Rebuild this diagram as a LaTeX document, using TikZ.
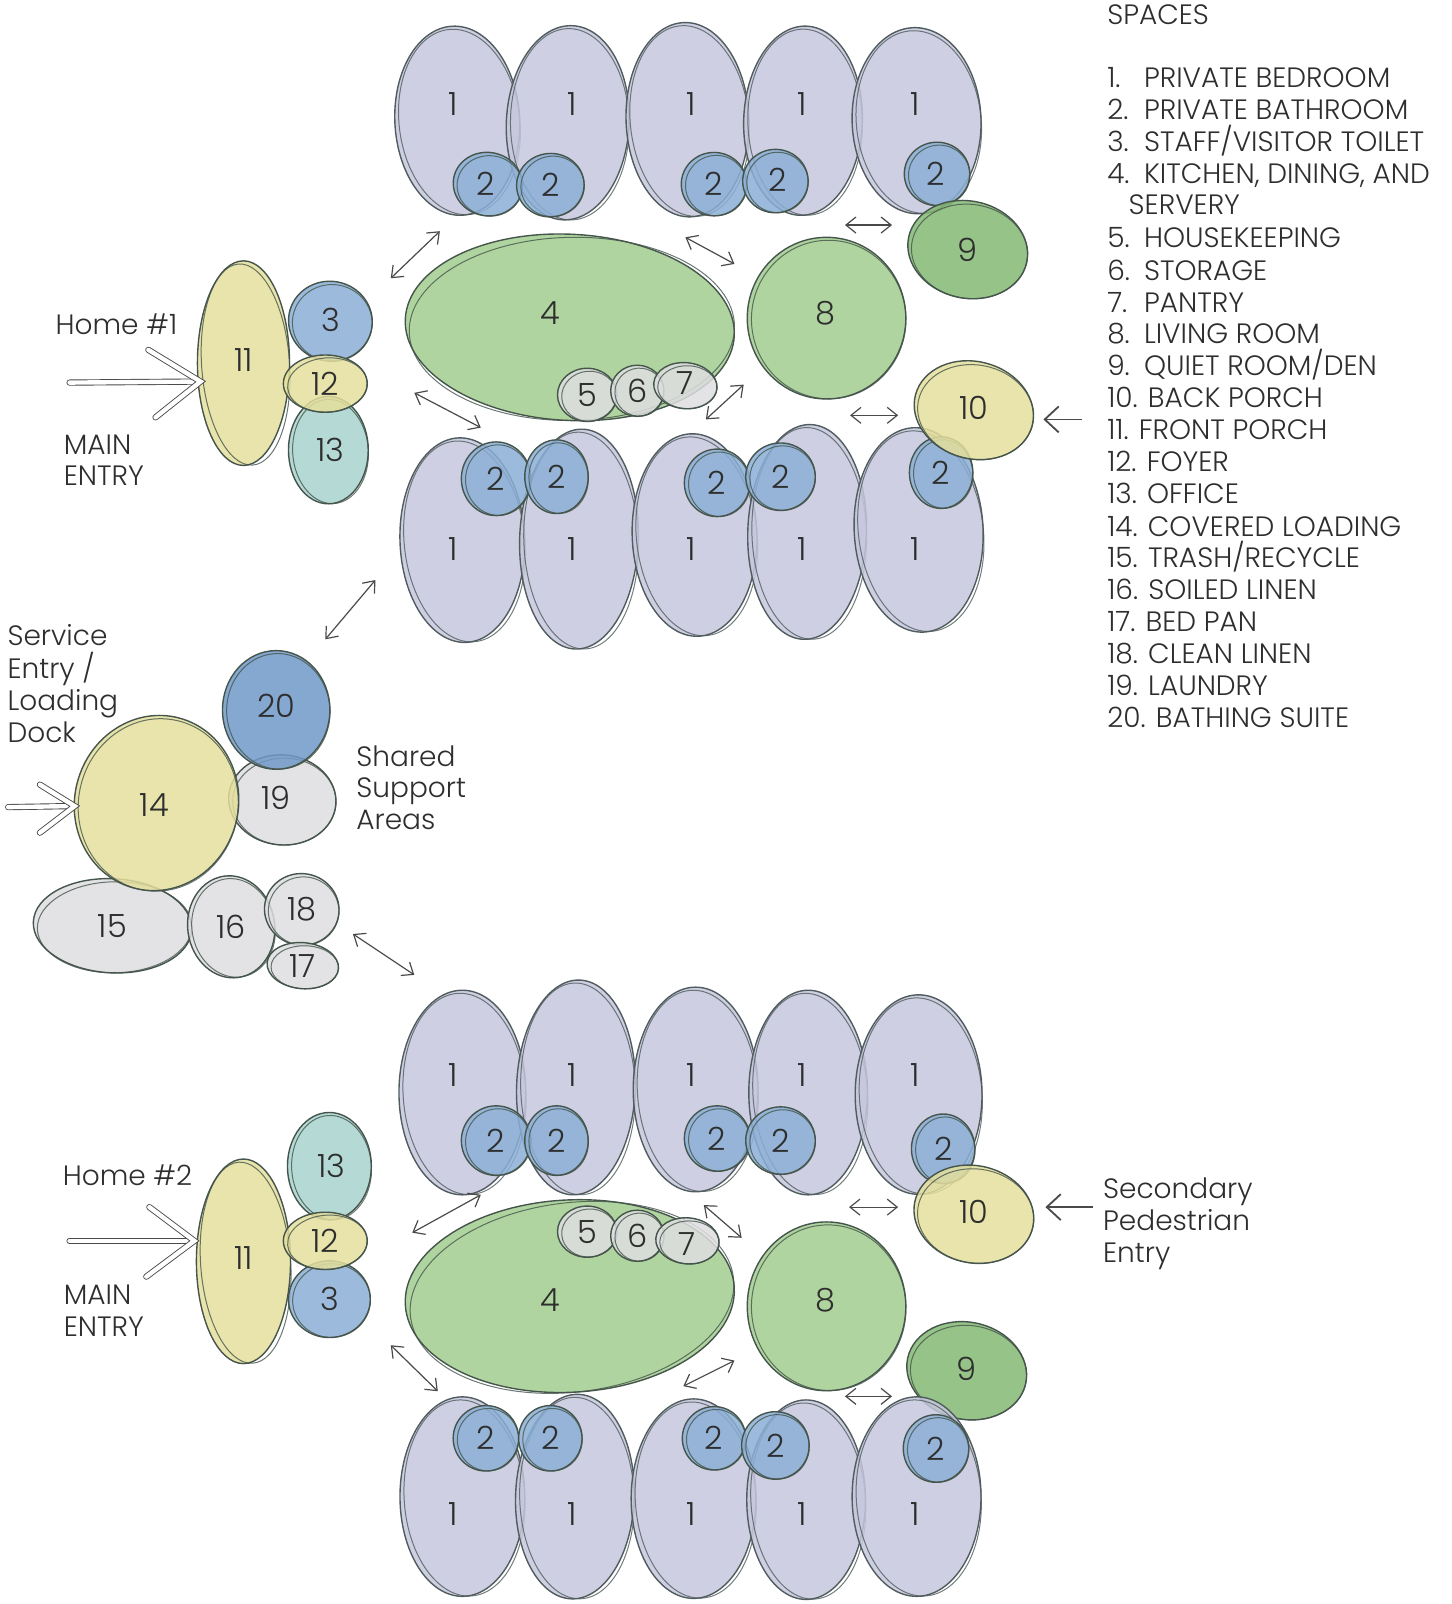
\documentclass[tikz,border=0pt]{standalone}
\usepackage{fontspec}
\setmainfont{Poppins}[UprightFont={* Light}]
\usetikzlibrary{shapes.geometric,arrows.meta}
\newdimen\U \U=0.5116pt
\definecolor{bedc}{HTML}{C6C7DD}
\definecolor{bedl}{HTML}{505C5E}
\definecolor{bathc}{HTML}{8BAFD6}
\definecolor{greenc}{HTML}{A2CD8E}
\definecolor{dgreenc}{HTML}{84B873}
\definecolor{yellowc}{HTML}{E4DF9C}
\definecolor{tealc}{HTML}{A8D3CE}
\definecolor{grayc}{HTML}{DEDEE0}
\definecolor{bluec}{HTML}{7099C9}
\definecolor{linec}{HTML}{45554C}
\definecolor{textc}{HTML}{2E2E2E}
\definecolor{arrc}{HTML}{4A4A4A}
\newcommand\bub[9]{%
  \node[#2, minimum width=#5\U, minimum height=#6\U, rotate=#7] (#1) at (#3,#4) {};
  \draw[#2, fill=none, sk, rotate around={#7+4:(#3,#4)}] (#3+2,#4+1.5) ellipse [x radius=#5/2-2, y radius=#6/2-1.5];
  \node[lab] (#1t) at ([shift={(#9)}]#3,#4) {#8};
}
\newcommand\legline[4]{\node[txt, anchor=base west] (#1) at (#2,#3) {#4};}
\newcommand\nb[1]{\makebox[18.4pt][l]{#1}}
\begin{document}
\begin{tikzpicture}[x=0.5116pt, y=-0.5116pt,
  room/.style={ellipse, inner sep=0pt, fill opacity=0.85, line width=0.7pt},
  bed/.style={room, fill=bedc, draw=bedl},
  bath/.style={room, fill=bathc, draw=linec},
  green/.style={room, fill=greenc, draw=linec},
  dgreen/.style={room, fill=dgreenc, draw=linec},
  yellow/.style={room, fill=yellowc, draw=linec},
  teal/.style={room, fill=tealc, draw=linec},
  gray/.style={room, fill=grayc, draw=linec},
  blue/.style={room, fill=bluec, draw=linec},
  sk/.style={line width=0.5pt, draw opacity=0.8},
  lab/.style={font=\fontsize{16}{18}\selectfont, text=textc, inner sep=0pt},
  txt/.style={font=\fontsize{14}{16}\selectfont, text=textc, inner sep=0pt},
  conn/.style={{Straight Barb[length=5pt,width=8pt]}-{Straight Barb[length=5pt,width=8pt]}, line width=0.6pt, draw=arrc},
  onearr/.style={-{Straight Barb[length=7pt,width=13pt]}, line width=0.9pt, draw=arrc},
  hollow/.style={double=white, double distance=2.2pt, line width=0.45pt, draw=arrc, line cap=round}]
\useasboundingbox (0,0) rectangle (1419,1568);

% ================= HOME 1 =================
\bub{Ab1}{bed}{447}{118}{122}{185}{3}{1}{-4,-16}
\bub{Ab2}{bed}{555}{120}{120}{190}{-3}{1}{4,-18}
\bub{Ab3}{bed}{672}{117}{120}{190}{2}{1}{4,-15}
\bub{Ab4}{bed}{785}{118}{116}{185}{-2}{1}{-1,-16}
\bub{Ab5}{bed}{896}{118}{126}{182}{2}{1}{-1,-16}
\bub{Aw1}{bath}{477}{180}{68}{62}{-10}{2}{-2,0}
\bub{Aw2}{bath}{538}{181}{66}{62}{5}{2}{0,0}
\bub{Aw3}{bath}{698}{180}{64}{62}{0}{2}{0,0}
\bub{Aw4}{bath}{758}{177}{64}{62}{0}{2}{2,-1}
\bub{Aw5}{bath}{916}{170}{64}{62}{0}{2}{-1,0}
\bub{A9}{dgreen}{946}{244}{118}{95}{-12}{9}{0,0}
\bub{A4}{green}{557}{320}{322}{182}{-3}{4}{-19,-14}
\bub{A8}{green}{808}{311}{155}{158}{0}{8}{-1,-5}
\bub{A5}{gray}{574}{386}{58}{52}{0}{5}{0,0}
\bub{A6}{gray}{623}{382}{52}{50}{0}{6}{0,0}
\bub{A7}{gray}{670}{377}{62}{45}{-5}{7}{0,-3}
\bub{Ab6}{bed}{452}{528}{122}{200}{2}{1}{-9,9}
\bub{Ab7}{bed}{566}{527}{116}{215}{-2}{1}{-7,10}
\bub{Ab8}{bed}{679}{523}{122}{198}{2}{1}{-3,14}
\bub{Ab9}{bed}{789}{520}{116}{210}{-2}{1}{-5,17}
\bub{Ab10}{bed}{898}{518}{126}{200}{3}{1}{-3,19}
\bub{Aw6}{bath}{485}{468}{68}{72}{0}{2}{0,0}
\bub{Aw7}{bath}{544}{466}{62}{72}{0}{2}{0,0}
\bub{Aw8}{bath}{701}{472}{64}{66}{0}{2}{0,0}
\bub{Aw9}{bath}{763}{466}{68}{66}{0}{2}{0,0}
\bub{Aw10}{bath}{920}{462}{62}{70}{0}{2}{0,0}
\bub{A10}{yellow}{952}{401}{118}{95}{-15}{10}{0,-2}
\bub{A11}{yellow}{238}{355}{90}{200}{0}{11}{0,-3}
\bub{A3}{bath}{323}{314}{82}{78}{-10}{3}{0,-1}
\bub{A13}{teal}{321}{440}{78}{105}{0}{13}{2,0}
\bub{A12}{yellow}{318}{375}{82}{56}{0}{12}{0,0}

% ================= SHARED =================
\bub{S19}{gray}{276}{782}{105}{88}{-5}{19}{-6,-2}
\bub{S20}{blue}{270}{694}{105}{116}{0}{20}{0,-4}
\bub{S15}{gray}{110}{905}{155}{92}{-3}{15}{0,0}
\bub{S14}{yellow}{153}{785}{160}{172}{-15}{14}{-2,2}
\bub{S16}{gray}{226}{906}{85}{100}{8}{16}{0,0}
\bub{S18}{gray}{295}{889}{73}{70}{-10}{18}{0,0}
\bub{S17}{gray}{296}{944}{70}{45}{-5}{17}{0,0}

% ================= HOME 2 =================
\bub{Bb1}{bed}{452}{1068}{124}{200}{0}{1}{-9,-17}
\bub{Bb2}{bed}{563}{1063}{116}{210}{-2}{1}{-4,-12}
\bub{Bb3}{bed}{680}{1065}{122}{200}{0}{1}{-4,-14}
\bub{Bb4}{bed}{790}{1068}{116}{200}{0}{1}{-6,-17}
\bub{Bb5}{bed}{898}{1070}{124}{195}{0}{1}{-3,-19}
\bub{Bw1}{bath}{485}{1115}{68}{68}{0}{2}{0,0}
\bub{Bw2}{bath}{544}{1115}{62}{68}{0}{2}{0,0}
\bub{Bw3}{bath}{701}{1113}{64}{64}{0}{2}{0,0}
\bub{Bw4}{bath}{763}{1115}{68}{66}{0}{2}{0,0}
\bub{Bw5}{bath}{922}{1123}{62}{68}{0}{2}{0,0}
\bub{B10}{yellow}{952}{1187}{118}{95}{-12}{10}{0,-2}
\bub{B4}{green}{557}{1267}{322}{188}{3}{4}{-19,4}
\bub{B8}{green}{808}{1277}{155}{165}{0}{8}{-1,-6}
\bub{B5}{gray}{574}{1204}{58}{50}{0}{5}{0,0}
\bub{B6}{gray}{623}{1208}{52}{50}{0}{6}{0,0}
\bub{B7}{gray}{672}{1213}{62}{45}{-5}{7}{0,3}
\bub{B9}{dgreen}{945}{1340}{118}{95}{-12}{9}{0,-2}
\bub{Bb6}{bed}{452}{1463}{122}{195}{0}{1}{-9,17}
\bub{Bb7}{bed}{562}{1463}{116}{200}{-2}{1}{-3,17}
\bub{Bb8}{bed}{678}{1465}{122}{195}{0}{1}{-2,15}
\bub{Bb9}{bed}{788}{1466}{116}{195}{0}{1}{-4,14}
\bub{Bb10}{bed}{896}{1463}{126}{195}{0}{1}{-1,17}
\bub{Bw6}{bath}{475}{1406}{64}{64}{0}{2}{0,0}
\bub{Bw7}{bath}{538}{1406}{62}{64}{0}{2}{0,0}
\bub{Bw8}{bath}{698}{1406}{62}{62}{0}{2}{0,0}
\bub{Bw9}{bath}{758}{1413}{66}{66}{0}{2}{0,0}
\bub{Bw10}{bath}{915}{1416}{64}{66}{0}{2}{0,0}
\bub{B11}{yellow}{238}{1233}{92}{200}{0}{11}{0,-3}
\bub{B13}{teal}{322}{1140}{82}{105}{0}{13}{2,0}
\bub{B3}{bath}{322}{1270}{80}{75}{0}{3}{0,0}
\bub{B12}{yellow}{318}{1213}{82}{56}{0}{12}{0,0}

% ================= CONNECTORS =================
\coordinate (c1a) at (382,272); \coordinate (c1b) at (430,226);
\coordinate (c2a) at (670,232); \coordinate (c2b) at (718,258);
\coordinate (c3a) at (826,220); \coordinate (c3b) at (872,220);
\coordinate (c4a) at (405,384); \coordinate (c4b) at (470,418);
\coordinate (c5a) at (690,410); \coordinate (c5b) at (727,376);
\coordinate (c6a) at (831,406); \coordinate (c6b) at (878,406);
\coordinate (c7a) at (318,625); \coordinate (c7b) at (367,567);
\coordinate (c8a) at (345,913); \coordinate (c8b) at (405,953);
\coordinate (c9a) at (403,1205); \coordinate (c9b) at (470,1168);
\coordinate (c10a) at (688,1178); \coordinate (c10b) at (725,1210);
\coordinate (c11a) at (830,1180); \coordinate (c11b) at (878,1180);
\coordinate (c12a) at (382,1315); \coordinate (c12b) at (428,1360);
\coordinate (c13a) at (668,1355); \coordinate (c13b) at (718,1330);
\coordinate (c14a) at (826,1365); \coordinate (c14b) at (872,1365);
\foreach \i in {1,...,14}{\draw[conn] (c\i a) -- (c\i b);}

\coordinate (p1s) at (1058,410); \coordinate (p1t) at (1020,410);
\draw[onearr] (p1s) -- (p1t);
\coordinate (p2s) at (1068,1180); \coordinate (p2t) at (1022,1180);
\draw[onearr] (p2s) -- (p2t);

% hollow entry arrows
\coordinate (e1s) at (68,374); \coordinate (e1t) at (196,373);
\coordinate (e1u) at (145,342); \coordinate (e1d) at (152,408);
\draw[hollow] (e1s) -- ([xshift=-2pt]e1t);
\draw[hollow] (e1u) -- (e1t) -- (e1d);
\coordinate (e2s) at (68,1213); \coordinate (e2t) at (190,1213);
\coordinate (e2u) at (146,1180); \coordinate (e2d) at (143,1248);
\draw[hollow] (e2s) -- ([xshift=-2pt]e2t);
\draw[hollow] (e2u) -- (e2t) -- (e2d);
\coordinate (e3s) at (8,789); \coordinate (e3t) at (73,788);
\coordinate (e3u) at (39,767); \coordinate (e3d) at (39,814);
\draw[hollow] (e3s) -- ([xshift=-2pt]e3t);
\draw[hollow] (e3u) -- (e3t) -- (e3d);

% ================= TEXT =================
\legline{h1}{54}{327}{Home \#1}
\legline{m1a}{62}{444}{MAIN}
\legline{m1b}{62}{475}{ENTRY}
\legline{h2}{61}{1159}{Home \#2}
\legline{m2a}{62}{1275}{MAIN}
\legline{m2b}{62}{1306}{ENTRY}
\legline{se1}{7}{631}{Service}
\legline{se2}{7}{663}{Entry /}
\legline{se3}{7}{695}{Loading}
\legline{se4}{7}{726}{Dock}
\legline{sh1}{348}{749}{Shared}
\legline{sh2}{348}{780}{Support}
\legline{sh3}{348}{811}{Areas}
\legline{sp1}{1078}{1172}{Secondary}
\legline{sp2}{1078}{1203}{Pedestrian}
\legline{sp3}{1078}{1234}{Entry}

\legline{L0}{1082}{24}{SPACES}
\legline{L1}{1082}{86}{\nb{1.}PRIVATE BEDROOM}
\legline{L2}{1082}{117}{\nb{2.}PRIVATE BATHROOM}
\legline{L3}{1082}{148}{\nb{3.}STAFF/VISITOR TOILET}
\legline{L4}{1082}{179}{\nb{4.}KITCHEN, DINING, AND}
\legline{L4b}{1103}{210}{SERVERY}
\legline{L5}{1082}{242}{\nb{5.}HOUSEKEEPING}
\legline{L6}{1082}{274}{\nb{6.}STORAGE}
\legline{L7}{1082}{305}{\nb{7.}PANTRY}
\legline{L8}{1082}{336}{\nb{8.}LIVING ROOM}
\legline{L9}{1082}{367}{\nb{9.}QUIET ROOM/DEN}
\legline{L10}{1082}{398}{10. BACK PORCH}
\legline{L11}{1082}{430}{11. FRONT PORCH}
\legline{L12}{1082}{461}{12. FOYER}
\legline{L13}{1082}{492}{13. OFFICE}
\legline{L14}{1082}{524}{14. COVERED LOADING}
\legline{L15}{1082}{555}{15. TRASH/RECYCLE}
\legline{L16}{1082}{586}{16. SOILED LINEN}
\legline{L17}{1082}{617}{17. BED PAN}
\legline{L18}{1082}{649}{18. CLEAN LINEN}
\legline{L19}{1082}{680}{19. LAUNDRY}
\legline{L20}{1082}{711}{20. BATHING SUITE}
\end{tikzpicture}
\end{document}
